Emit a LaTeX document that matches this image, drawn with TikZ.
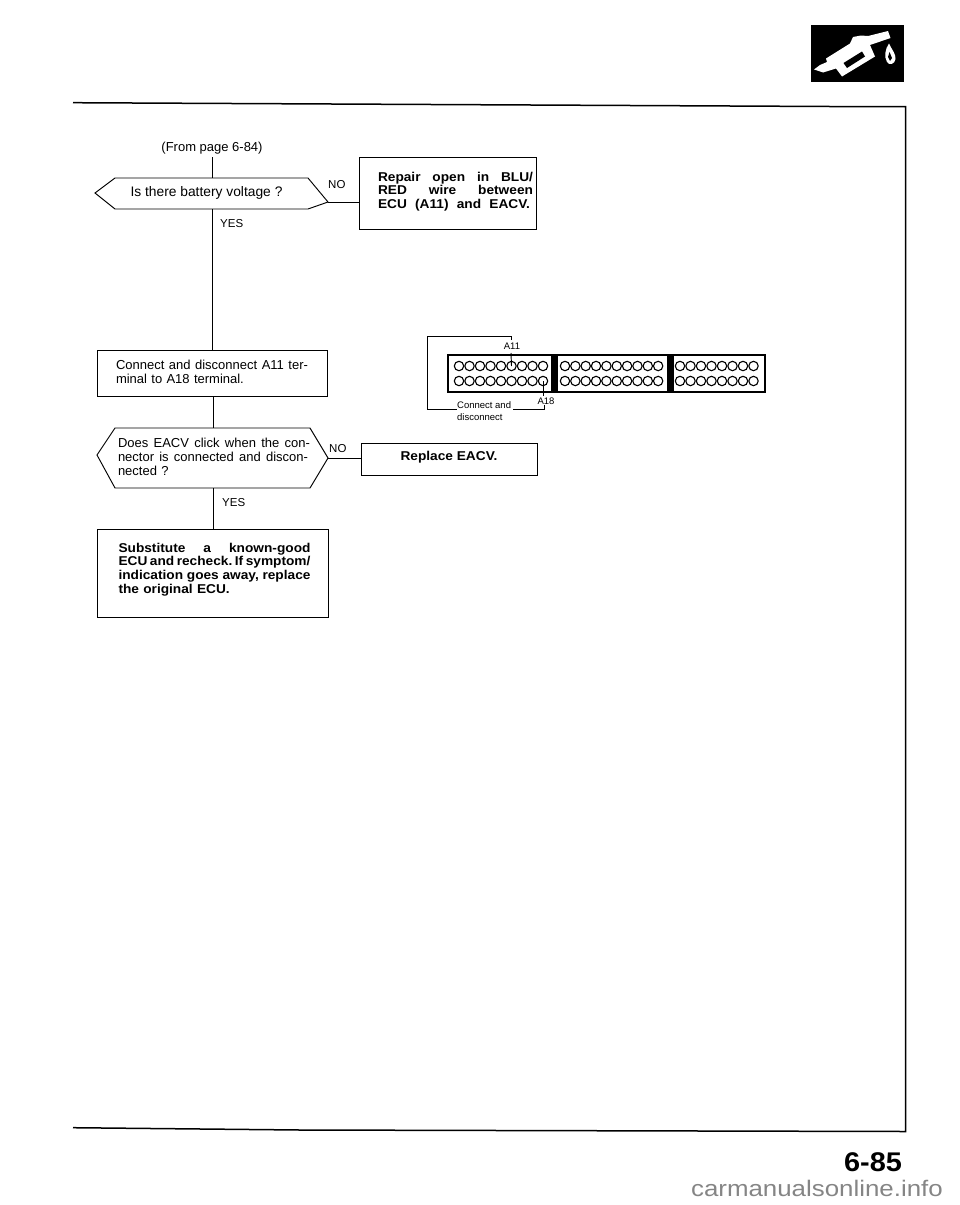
\documentclass[tikz,border=0pt]{standalone}
\usepackage{fontspec}
\setmainfont{Liberation Sans}
\newfontfamily\widebold[FakeStretch=1.07]{Liberation Sans Bold}
\newfontfamily\wmfont[FakeStretch=1.15]{Liberation Sans}
\tikzset{
  x=1pt,y=-1pt,
  flowbox/.style={draw,line width=.95pt,inner sep=0pt,fill=white},
  hexline/.style={line width=.95pt,line join=miter},
  wire/.style={line width=.95pt},
  lab/.style={inner sep=0pt,font=\fontsize{13}{13.7}\selectfont},
  blab/.style={inner sep=0pt,font=\fontsize{12.8}{13.7}\widebold},
  yn/.style={inner sep=0pt,font=\fontsize{11.5}{13}\selectfont},
  tiny/.style={inner sep=0pt,font=\fontsize{9.5}{12}\selectfont},
  pin/.style={draw,circle,line width=1.1pt,minimum size=9.4pt,inner sep=0pt}
}
\newcommand{\jl}[2]{\leavevmode\hbox to #1pt{\frenchspacing\spaceskip=.12em plus 1fil\relax #2}}
\begin{document}
\begin{tikzpicture}
\useasboundingbox (0,0) rectangle (960,1205);
% page frame
\draw[line width=1.5pt] (73,102.7) -- (830,106.5) -- (905.5,106.5) -- (905.5,1131.5) -- (300,1130) -- (73,1127.7);
% icon
\fill[black] (811,25) rectangle (904,82);
\fill[white] (814,69.5) -- (820,65) -- (827,62) -- (826,58.5) -- (850,43.5) -- (853,37) -- (861,35.5) -- (868,36) -- (888,31) -- (890.5,38) -- (870,45) -- (875,56.5) -- (842,76.5) -- (836,68.5) -- (823,72.5) -- cycle;
\fill[black] (843.5,63) -- (862,51.5) -- (865,56.5) -- (847,68) -- cycle;
\fill[white] (889,43.5) .. controls (892,50) and (896,54) .. (895.5,59) .. controls (895,64) and (889,66) .. (887,62) .. controls (884,57) and (885,49) .. (889,43.5) -- cycle;
\fill[black] (889.5,52) -- (892,58) -- (890,61) -- (888,57) -- cycle;
% flow shapes
\coordinate (from) at (212,157);
\node[lab] (fromtxt) at (212,148) {(From page 6-84)};
\node[flowbox,minimum width=177pt,minimum height=72pt] (repair) at (447.5,193) {};
\node[blab,text width=155pt,align=left] (repairtxt) at (455.5,191.5) {\jl{155}{Repair open in BLU/}\\\jl{155}{RED wire between}\\\jl{152}{ECU (A11) and EACV.}};
\draw[hexline] (115,178) -- (308,178) -- (328,202) -- (308,209) -- (115,209) -- (95,193) -- cycle;
\coordinate (h1t) at (212,178);
\coordinate (h1b) at (212,209);
\coordinate (h1r) at (328,202);
\node[inner sep=0pt,font=\fontsize{13.8}{14}\selectfont] (h1txt) at (206.5,193) {Is there battery voltage ?};
\node[flowbox,minimum width=230pt,minimum height=46pt] (connect) at (212.5,373) {};
\node[lab,text width=193pt,align=left] (connecttxt) at (212.5,372) {\jl{192}{Connect and disconnect A11 ter-}\\minal to A18 terminal.};
\draw[hexline] (115,428) -- (310,428) -- (328,458) -- (310,488) -- (115,488) -- (97,455) -- cycle;
\coordinate (h2t) at (213,428);
\coordinate (h2b) at (213,488);
\coordinate (h2r) at (328,458);
\node[lab,text width=192pt,align=left] (h2txt) at (214,457) {\jl{192}{Does EACV click when the con-}\\\jl{190}{nector is connected and discon-}\\nected ?};
\node[flowbox,minimum width=176pt,minimum height=32pt] (replace) at (449,459) {};
\node[blab] (replacetxt) at (449,457.5) {Replace EACV.};
\node[flowbox,minimum width=230.5pt,minimum height=88pt] (subst) at (212.75,573) {};
\node[blab,text width=192pt,align=left] (substtxt) at (214.5,569.5) {\jl{192}{Substitute a known-good}\\\jl{192}{ECU and recheck. If symptom/}\\\jl{192}{indication goes away, replace}\\the original ECU.};
% connectors
\draw[wire] (from) -- (h1t);
\draw[wire] (h1b) -- (h1b |- connect.north);
\draw[wire] (h1r) -- (h1r -| repair.west);
\draw[wire] (h2t |- connect.south) -- (h2t);
\draw[wire] (h2r) -- (h2r -| replace.west);
\draw[wire] (h2b) -- (h2b |- subst.north);
\node[yn,anchor=west] (no1) at (328,185) {NO};
\node[yn,anchor=west] (yes1) at (220,224) {YES};
\node[yn,anchor=west] (no2) at (329,449) {NO};
\node[yn,anchor=west] (yes2) at (222,503) {YES};
% connector block
\draw[line width=1.9pt] (448,355) rectangle (765,392);
\fill[black] (551,355) rectangle (558,392);
\fill[black] (667,355) rectangle (674,392);
\foreach \r in {366,381}{
  \foreach \i in {0,...,8}{\node[pin] (a\r-\i) at ({459+10.5*\i},\r) {};}
  \foreach \i in {0,...,9}{\node[pin] (b\r-\i) at ({565+10.35*\i},\r) {};}
  \foreach \i in {0,...,7}{\node[pin] (c\r-\i) at ({680+10.5*\i},\r) {};}
}
\node[tiny] (a11) at (512,346) {A11};
\node[tiny] (a18) at (546,401) {A18};
\node[tiny,anchor=west] (conn) at (457,405) {Connect and};
\node[tiny,anchor=west] (disc) at (457,417) {disconnect};
\coordinate (wt) at (511,336);
\coordinate (wb) at (544,405);
\draw[wire] (511,340) -- (wt) -- (427,336) -- (427,409) -- (conn.west |- 0,409);
\draw[wire] (513,409) -- (544,409) -- (wb);
\draw[wire] (511,353) -- (a366-5.center);
\draw[wire] (a381-8.center) -- (543,396);
% page number
\node[inner sep=0pt,font=\fontsize{27}{29}\widebold] (pg) at (873,1162.5) {6-85};
\node[inner sep=0pt,anchor=base east,text=black!48,font=\fontsize{22.5}{24}\wmfont] (wm) at (943,1196.5) {carmanualsonline.info};
\end{tikzpicture}
\end{document}
